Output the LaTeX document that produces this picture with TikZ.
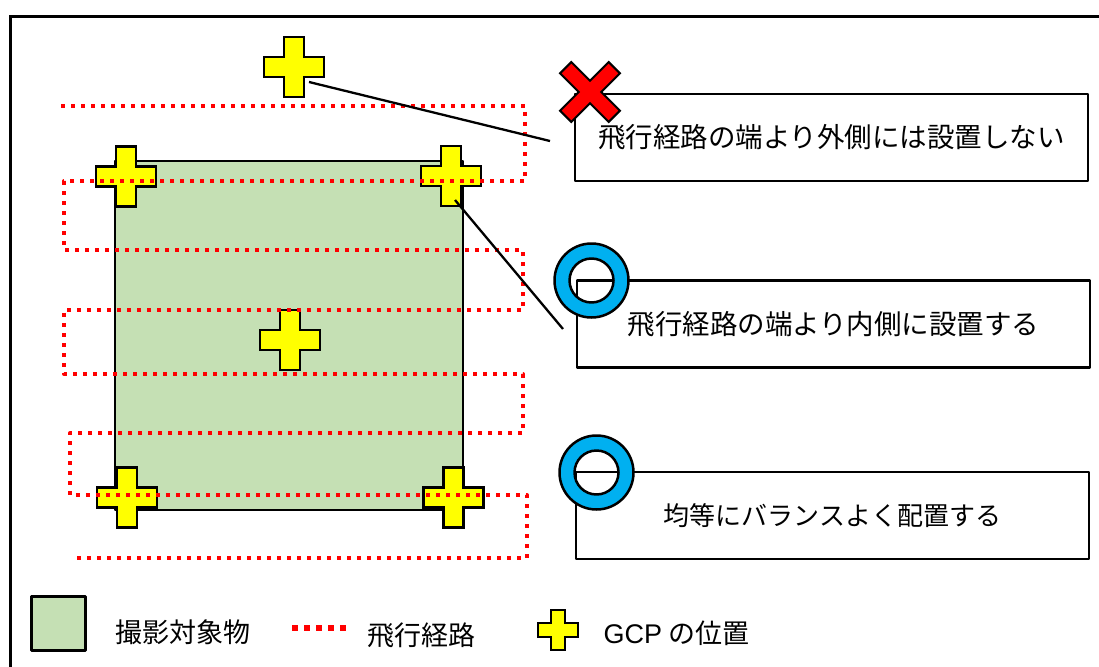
\documentclass[tikz,border=0pt]{standalone}
\usepackage{fontspec}
\setmainfont{Liberation Sans}
\newfontfamily\jp{Noto Sans CJK JP}
\definecolor{targetgreen}{HTML}{C5E0B4}
\definecolor{okblue}{HTML}{00B0F0}
\definecolor{gcpyellow}{HTML}{FFFF00}
\tikzset{
  gcp/.pic={\filldraw[fill=gcpyellow,draw=black,line width=2.2pt,line join=miter]
    (-10,-30) -- (10,-30) -- (10,-10) -- (30,-10) -- (30,10) -- (10,10) -- (10,30)
    -- (-10,30) -- (-10,10) -- (-30,10) -- (-30,-10) -- (-10,-10) -- cycle;},
  okring/.pic={\filldraw[fill=okblue,draw=black,line width=2.5pt,even odd rule]
    (0,0) circle (37) (0,0) circle (22);},
  ngmark/.pic={\filldraw[fill=red,draw=black,line width=2pt,line join=miter]
    (29.98,18.67) -- (18.67,29.98) -- (0,11.31) -- (-18.67,29.98) -- (-29.98,18.67)
    -- (-11.31,0) -- (-29.98,-18.67) -- (-18.67,-29.98) -- (0,-11.31) -- (18.67,-29.98)
    -- (29.98,-18.67) -- (11.31,0) -- cycle;}
}
\begin{document}
\begin{tikzpicture}[x=1pt,y=-1pt,line join=round,
  notebox/.style={draw,line width=2.5pt,minimum width=513pt,minimum height=87pt,inner sep=0pt,
    font=\jp\fontsize{27.5}{27.5}\selectfont},
  legendtext/.style={inner sep=0pt,font=\jp\fontsize{27}{27}\selectfont},
  flightpath/.style={red,line width=4pt,dash pattern=on 4pt off 6pt},
  callout/.style={line width=2.3pt}]
	\useasboundingbox (0,0) rectangle (1099,666);
	\draw[line width=3.8pt,line join=miter] (10.5,690) -- (10.5,16.5) -- (1120,16.5);
	\filldraw[fill=targetgreen,draw=black,line width=2.5pt] (115,161) rectangle (463,510);
	\coordinate (gcpOut) at (294,67);
	\coordinate (gcpTL) at (126,176.5);
	\coordinate (gcpTR) at (451,176);
	\coordinate (gcpMid) at (290,340);
	\coordinate (gcpBL) at (127,497.5);
	\coordinate (gcpBR) at (453.5,497.5);
	\foreach \p in {gcpOut,gcpTL,gcpTR,gcpMid,gcpBL,gcpBR}
		\pic at (\p) {gcp};
	\draw[flightpath] (61,106) -- (525,106) -- (525,181) -- (64,181) -- (64,250) -- (523,250)
	  -- (523,310) -- (64,310) -- (64,374) -- (523,374) -- (523,433) -- (70,433) -- (70,495)
	  -- (527,495) -- (527,558) -- (75,558);
	\node[notebox] (noteOut) at (831.5,137.5) {飛行経路の端より外側には設置しない};
	\node[notebox] (noteIn) at (833.5,324) {飛行経路の端より内側に設置する};
	\node[notebox,font=\jp\fontsize{26}{26}\selectfont] (noteEven) at (832.5,515.5) {均等にバランスよく配置する};
	\coordinate (tipOut) at (309,82);
	\coordinate (endOut) at (550,141);
	\coordinate (tipIn) at (455,200);
	\coordinate (endIn) at (563,329);
	\draw[callout] (tipOut) -- (endOut);
	\draw[callout] (tipIn) -- (endIn);
	\pic at (590,92) {ngmark};
	\pic at (591.5,280.5) {okring};
	\pic at (596.5,472.5) {okring};
	\node[draw,fill=targetgreen,line width=3pt,minimum size=54pt,inner sep=0pt] (keyTarget) at (58.5,623) {};
	\node[legendtext] (keyTargetText) at (182.5,632) {撮影対象物};
	\draw[red,line width=6pt,dash pattern=on 6pt off 6pt] (292,628) -- (348,628);
	\node[legendtext] (keyPathText) at (421.5,635) {飛行経路};
	\pic[scale=0.67] at (558,630) {gcp};
	\node[legendtext] (keyGcpText) at (676.5,633) {{\fontsize{27}{27}\selectfont\rmfamily GCP} の位置};
\end{tikzpicture}
\end{document}
